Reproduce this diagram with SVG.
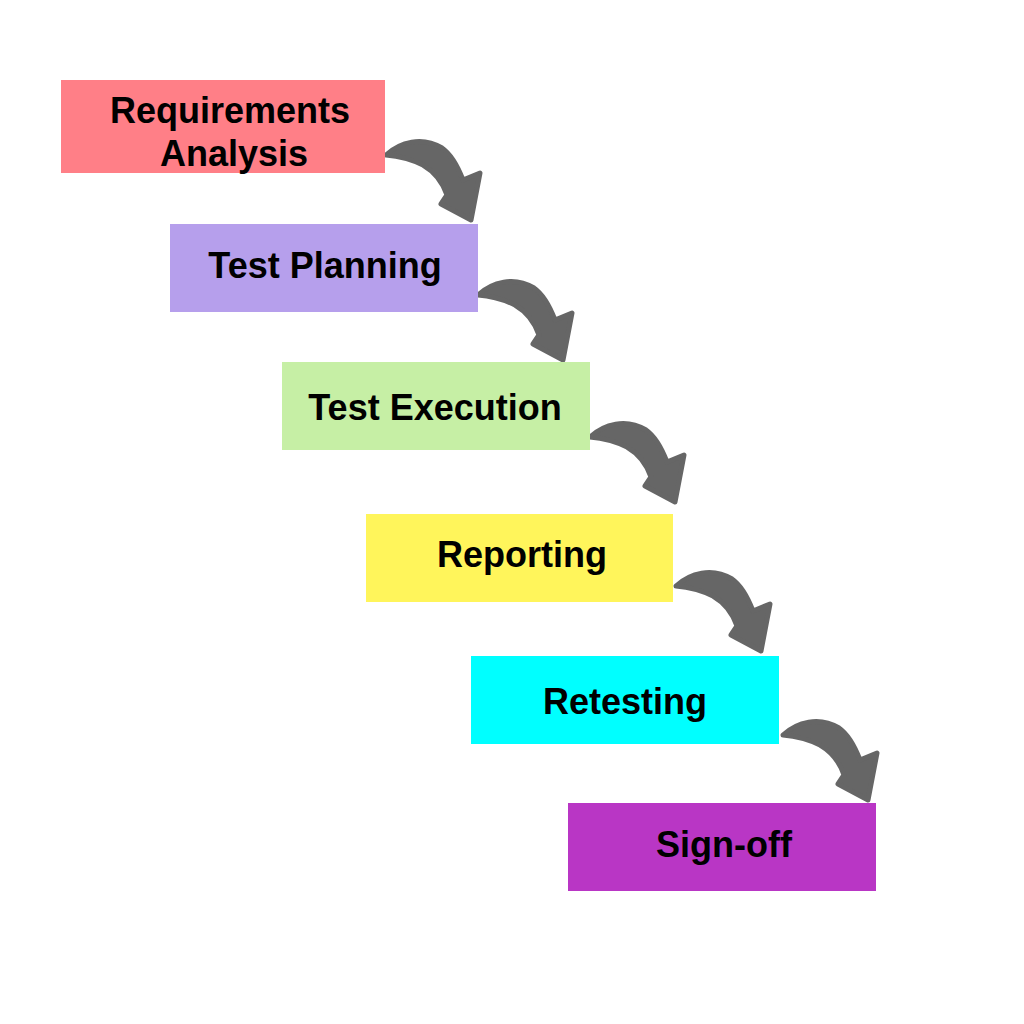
<svg xmlns="http://www.w3.org/2000/svg" width="1024" height="1024" viewBox="0 0 1024 1024">
<style>
.lbl{font-family:"Liberation Sans",Arial,sans-serif;font-weight:bold;font-size:36px;fill:#000;text-anchor:middle}
.arr{fill:#666;stroke:#666;stroke-width:5;stroke-linejoin:round}
</style>
<defs>
<path id="arrow" d="M0,2 C14,-11 36,-17 56,-5 C66,2 72,14 77,27 L94,20 L85,67 L55,51 L61,42 C57,30 49,19 37,12 C25,6 12,3 0,2 Z"/>
</defs>
<rect width="1024" height="1024" fill="#fff"/>
<g id="connectors" class="arr">
<use href="#arrow" transform="translate(386,153)"/>
<use href="#arrow" transform="translate(478,293)"/>
<use href="#arrow" transform="translate(590,435)"/>
<use href="#arrow" transform="translate(676,584)"/>
<use href="#arrow" transform="translate(783,733)"/>
</g>
<g id="n1"><rect x="61" y="80" width="324" height="93" fill="#FF7F87"/><text class="lbl" x="230" y="123">Requirements</text><text class="lbl" x="234" y="166">Analysis</text></g>
<g id="n2"><rect x="170" y="224" width="308" height="88" fill="#B69FEC"/><text class="lbl" x="325" y="278">Test Planning</text></g>
<g id="n3"><rect x="282" y="362" width="308" height="88" fill="#C6EFA5"/><text class="lbl" x="435" y="420">Test Execution</text></g>
<g id="n4"><rect x="366" y="514" width="307" height="88" fill="#FFF55B"/><text class="lbl" x="522" y="567">Reporting</text></g>
<g id="n5"><rect x="471" y="656" width="308" height="88" fill="#00FFFF"/><text class="lbl" x="625" y="714">Retesting</text></g>
<g id="n6"><rect x="568" y="803" width="308" height="88" fill="#B936C5"/><text class="lbl" x="724" y="857">Sign-off</text></g>
</svg>
